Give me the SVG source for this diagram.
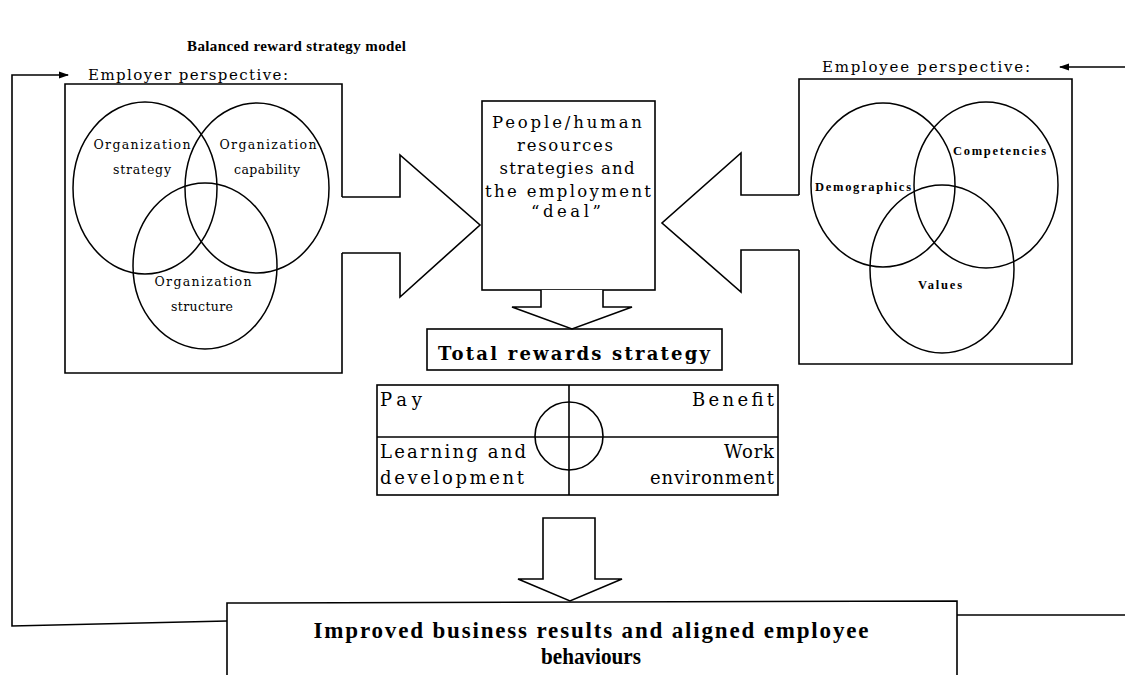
<svg xmlns="http://www.w3.org/2000/svg" width="1125" height="675" viewBox="0 0 1125 675">
  <style>
    .ln { fill: none; stroke: #000; stroke-width: 1.6; stroke-linejoin: miter; }
    .blk { fill: #fff; stroke: #000; stroke-width: 1.6; stroke-linejoin: miter; }
    .venn { fill: none; stroke: #000; stroke-width: 1.5; }
    .serif { font-family: "Liberation Serif", "Times New Roman", serif; fill: #000; }
    .wide { font-family: "DejaVu Serif", "Liberation Serif", serif; fill: #000; }
    .bold { font-weight: bold; }
    .mid { text-anchor: middle; }
    .end { text-anchor: end; }
  </style>
  <defs>
    <marker id="head" viewBox="0 0 10 10" refX="9" refY="5" markerWidth="16" markerHeight="10" markerUnits="userSpaceOnUse" orient="auto">
      <path d="M0,1.5 L10,5 L0,8.5 Z" fill="#000"/>
    </marker>
  </defs>

  <rect width="1125" height="675" fill="#fff"/>

  <text class="serif bold" x="187" y="51" font-size="15" textLength="219">Balanced reward strategy model</text>

  <!-- employer side: box with an opening for the block arrow -->
  <g id="employer">
    <text class="wide" x="88" y="80" font-size="15" textLength="200">Employer perspective:</text>
    <path class="ln" d="M342,197 L342,84 L65,84 L65,373 L342,373 L342,253"/>
    <ellipse class="venn" cx="145" cy="188" rx="72" ry="86"/>
    <ellipse class="venn" cx="257" cy="188" rx="72" ry="85"/>
    <ellipse class="venn" cx="205" cy="266" rx="72" ry="83"/>
    <text class="wide mid" x="142" y="149" font-size="12.5" textLength="97">Organization</text>
    <text class="wide mid" x="142" y="174" font-size="12.5" textLength="58">strategy</text>
    <text class="wide mid" x="268" y="149" font-size="12.5" textLength="97">Organization</text>
    <text class="wide mid" x="267" y="174" font-size="12.5" textLength="66">capability</text>
    <text class="wide mid" x="203" y="286" font-size="12.5" textLength="97">Organization</text>
    <text class="wide mid" x="202" y="311" font-size="12.5" textLength="62">structure</text>
  </g>

  <!-- employee side -->
  <g id="employee">
    <text class="wide" x="822" y="72" font-size="15" textLength="208">Employee perspective:</text>
    <path class="ln" d="M799,195 L799,79 L1072,79 L1072,364 L799,364 L799,250"/>
    <ellipse class="venn" cx="883" cy="185" rx="72" ry="82"/>
    <ellipse class="venn" cx="986" cy="185" rx="72" ry="83"/>
    <ellipse class="venn" cx="942" cy="269" rx="72" ry="84"/>
    <text class="serif bold" x="815" y="191" font-size="12.5" textLength="96">Demographics</text>
    <text class="serif bold" x="953" y="155" font-size="12.5" textLength="93">Competencies</text>
    <text class="serif bold" x="918" y="289" font-size="12.5" textLength="44">Values</text>
  </g>

  <!-- people / HR strategies -->
  <g id="hr-deal">
    <rect class="blk" x="482" y="101" width="173" height="189"/>
    <text class="wide mid" x="567" y="128" font-size="16.5" textLength="150">People/human</text>
    <text class="wide mid" x="565" y="151" font-size="16.5" textLength="96">resources</text>
    <text class="wide mid" x="567" y="174" font-size="16.5" textLength="135">strategies and</text>
    <text class="wide mid" x="568" y="197" font-size="16.5" textLength="166">the employment</text>
    <text class="wide mid" x="566" y="217" font-size="16.5" textLength="70">“deal”</text>
  </g>

  <g id="total-rewards">
    <rect class="blk" x="427" y="329" width="295" height="41"/>
    <text class="wide bold mid" x="574" y="360" font-size="18" textLength="272">Total rewards strategy</text>
  </g>

  <!-- four reward quadrants around a central circle -->
  <g id="quadrants">
    <rect class="ln" x="377" y="385" width="401" height="110"/>
    <line class="ln" x1="377" y1="437" x2="778" y2="437"/>
    <line class="ln" x1="569" y1="385" x2="569" y2="495"/>
    <circle class="ln" cx="569" cy="436" r="34"/>
    <text class="wide" x="380" y="406" font-size="18" textLength="42">Pay</text>
    <text class="wide end" x="774" y="406" font-size="18" textLength="82">Benefit</text>
    <text class="wide" x="380" y="458" font-size="18" textLength="146">Learning and</text>
    <text class="wide" x="380" y="484" font-size="18" textLength="144">development</text>
    <text class="wide end" x="774" y="458" font-size="18" textLength="50">Work</text>
    <text class="wide end" x="774" y="484" font-size="18" textLength="124">environment</text>
  </g>

  <g id="results">
    <path class="ln" d="M227,676 L227,603 L957,601 L957,676"/>
    <text class="serif bold mid" x="591" y="638" font-size="23" textLength="555">Improved business results and aligned employee</text>
    <text class="serif bold mid" x="591" y="664" font-size="23" textLength="100" lengthAdjust="spacingAndGlyphs">behaviours</text>
  </g>

  <g id="connectors">
    <!-- block arrows into the HR box -->
    <path class="blk" d="M342,197 L400,197 L400,155 L480,225 L400,297 L400,253 L342,253"/>
    <path class="blk" d="M799,195 L741,195 L741,153 L662,223 L741,292 L741,250 L799,250"/>
    <!-- HR box down to total rewards -->
    <path class="blk" d="M541,290 L541,307 L512,307 L572,329 L632,307 L603,307 L603,290"/>
    <!-- total rewards down to results -->
    <path class="blk" d="M543,518 L595,518 L595,579 L622,579 L570,601 L518,579 L543,579 Z"/>
    <!-- feedback loops -->
    <path class="ln" d="M227,621 L12,626 L12,75 L68,75" marker-end="url(#head)"/>
    <path class="ln" d="M957,615 L1125,615"/>
    <path class="ln" d="M1125,67 L1060,67" marker-end="url(#head)"/>
  </g>
</svg>
